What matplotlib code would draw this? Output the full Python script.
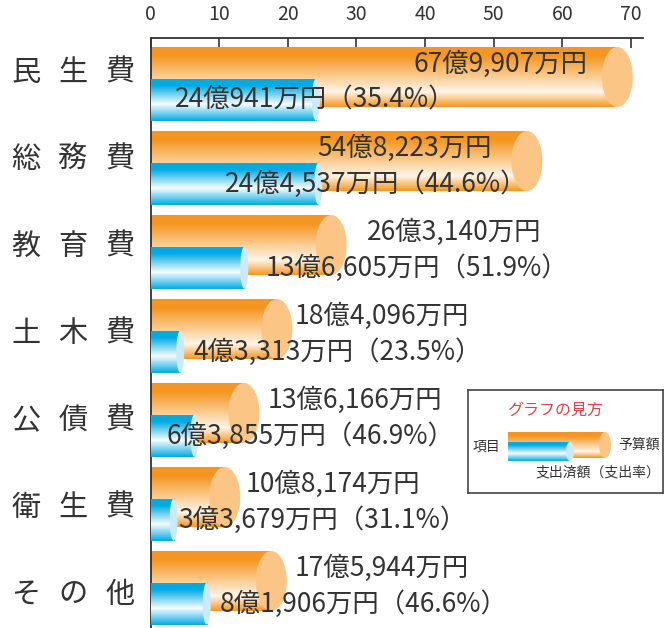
import numpy as np
import matplotlib.pyplot as plt
from matplotlib.patches import Ellipse
from matplotlib.transforms import blended_transform_factory

plt.rcParams['font.family'] = ['Noto Sans CJK JP', 'DejaVu Sans']

# data (units: 万円)
categories = ["民生費", "総務費", "教育費", "土木費", "公債費", "衛生費", "その他"]
budget = [679907, 548223, 263140, 184096, 136166, 108174, 175944]
spent = [240941, 244537, 136605, 43313, 63855, 33679, 81906]
x_ticks = [0, 10, 20, 30, 40, 50, 60, 70]

# where the value labels sit (in 億円 on the x axis)
budget_label_x = [63.6, 49.7, 31.5, 21.0, 17.0, 13.8, 21.0]
budget_label_ha = ["right", "right", "left", "left", "left", "left", "left"]
spent_label_x = [3.6, 10.9, 16.7, 6.2, 2.4, 4.0, 10.1]

W, H = 668, 628
text_col = "#333333"
orange = (0.96, 0.59, 0.13)
orange_light = (1.0, 0.96, 0.91)
orange_cap = "#FBC586"
blue = (0.0, 0.67, 0.89)
blue_light = (0.97, 0.99, 1.0)
blue_cap = "#C9EAF9"


def fmt(v):
    oku, man = divmod(v, 10000)
    return f"{oku}億{man:,}万円"


def gradient(base, light, peak, n=120):
    t = np.linspace(0, 1, n)
    stops = [0, 0.15, peak, 1.0]
    img = np.zeros((n, 1, 3))
    for c in range(3):
        img[:, 0, c] = np.interp(t, stops, [base[c], base[c], light[c], base[c]])
    return img


def cylinders(ax, bars, img, cap_color, cap_w, z):
    # paint a vertical gradient over each bar and add an end cap
    for b in bars:
        x0, w = b.get_x(), b.get_width()
        y0, h = b.get_y(), b.get_height()
        im = ax.imshow(img, extent=[x0, x0 + w, y0 + h, y0], aspect="auto",
                       interpolation="bilinear", zorder=z)
        im.set_clip_path(b)
        ax.add_patch(Ellipse((x0 + w, y0 + h / 2), cap_w, h, facecolor=cap_color,
                             edgecolor="none", zorder=z + 0.5))


fig = plt.figure(figsize=(W / 100, H / 100), dpi=100)
x_left, x_right, y_top = 150.5, 643, 38
ax = fig.add_axes([x_left / W, 0, (x_right - x_left) / W, (H - y_top) / H])
px_per_unit = 6.866
row_px = 84
xmax = (x_right - x_left) / px_per_unit

rows = np.arange(len(categories))
b_vals = np.array(budget) / 10000
s_vals = np.array(spent) / 10000

o_h, b_h, b_off = 0.714, 0.5, 0.27
obars = ax.barh(rows, b_vals, height=o_h, color=orange, zorder=1)
cylinders(ax, obars, gradient(orange, orange_light, 0.75), orange_cap, 31 / px_per_unit, 2)
sbars = ax.barh(rows + b_off, s_vals, height=b_h, color=blue, zorder=3)
cylinders(ax, sbars, gradient(blue, blue_light, 0.6), blue_cap, 8 / px_per_unit, 4)

for i in rows:
    ax.text(budget_label_x[i], i - 0.15, fmt(budget[i]), ha=budget_label_ha[i],
            va="center", fontsize=19, color=text_col, zorder=10)
    rate = spent[i] / budget[i] * 100
    ax.text(spent_label_x[i], i + b_off, f"{fmt(spent[i])}（{rate:.1f}%）", ha="left",
            va="center", fontsize=19, color=text_col, zorder=10)

# category names, one character at a time (spaced a bit wider than the bars)
tr = blended_transform_factory(fig.transFigure, ax.transData)
for i, name in enumerate(categories):
    yl = (73 + 87 * i - 77) / row_px
    for j, ch in enumerate(name):
        ax.text((26 + 47 * j) / W, yl, ch, transform=tr, ha="center",
                va="center", fontsize=21, color=text_col, clip_on=False)

ax.set_xlim(0, xmax)
ax.set_ylim((H - 77) / row_px, -(77 - y_top) / row_px)
ax.xaxis.tick_top()
ax.set_xticks(x_ticks)
ax.tick_params(axis="x", direction="in", length=7, width=1.2, pad=9,
               labelsize=14, colors=text_col)
ax.set_yticks([])
for s in ["right", "bottom"]:
    ax.spines[s].set_visible(False)
for s in ["top", "left"]:
    ax.spines[s].set_linewidth(1.3)
    ax.spines[s].set_color(text_col)

# "how to read" box
lx0, ly0, lw, lh = 468, 390, 195, 103
lax = fig.add_axes([lx0 / W, 1 - (ly0 + lh) / H, lw / W, lh / H])
lax.set_xticks([])
lax.set_yticks([])
for s in lax.spines.values():
    s.set_color("#444444")
    s.set_linewidth(1.2)
lo = lax.barh([55], [97], left=40, height=26, color=orange, zorder=1)
cylinders(lax, lo, gradient(orange, orange_light, 0.75), orange_cap, 12, 2)
lb = lax.barh([61.5], [62], left=40, height=19, color=blue, zorder=3)
cylinders(lax, lb, gradient(blue, blue_light, 0.6), blue_cap, 8, 4)
lax.set_xlim(0, lw)
lax.set_ylim(lh, 0)
lax.text(87, 20, "グラフの見方", ha="center", va="center", fontsize=11.5, color="#E8404A")
lax.text(18, 57, "項目", ha="center", va="center", fontsize=10, color=text_col)
lax.text(150, 55, "予算額", ha="left", va="center", fontsize=10, color=text_col)
lax.text(67, 83, "支出済額（支出率）", ha="left", va="center", fontsize=10, color=text_col)

fig.savefig("out.png", dpi=100)
